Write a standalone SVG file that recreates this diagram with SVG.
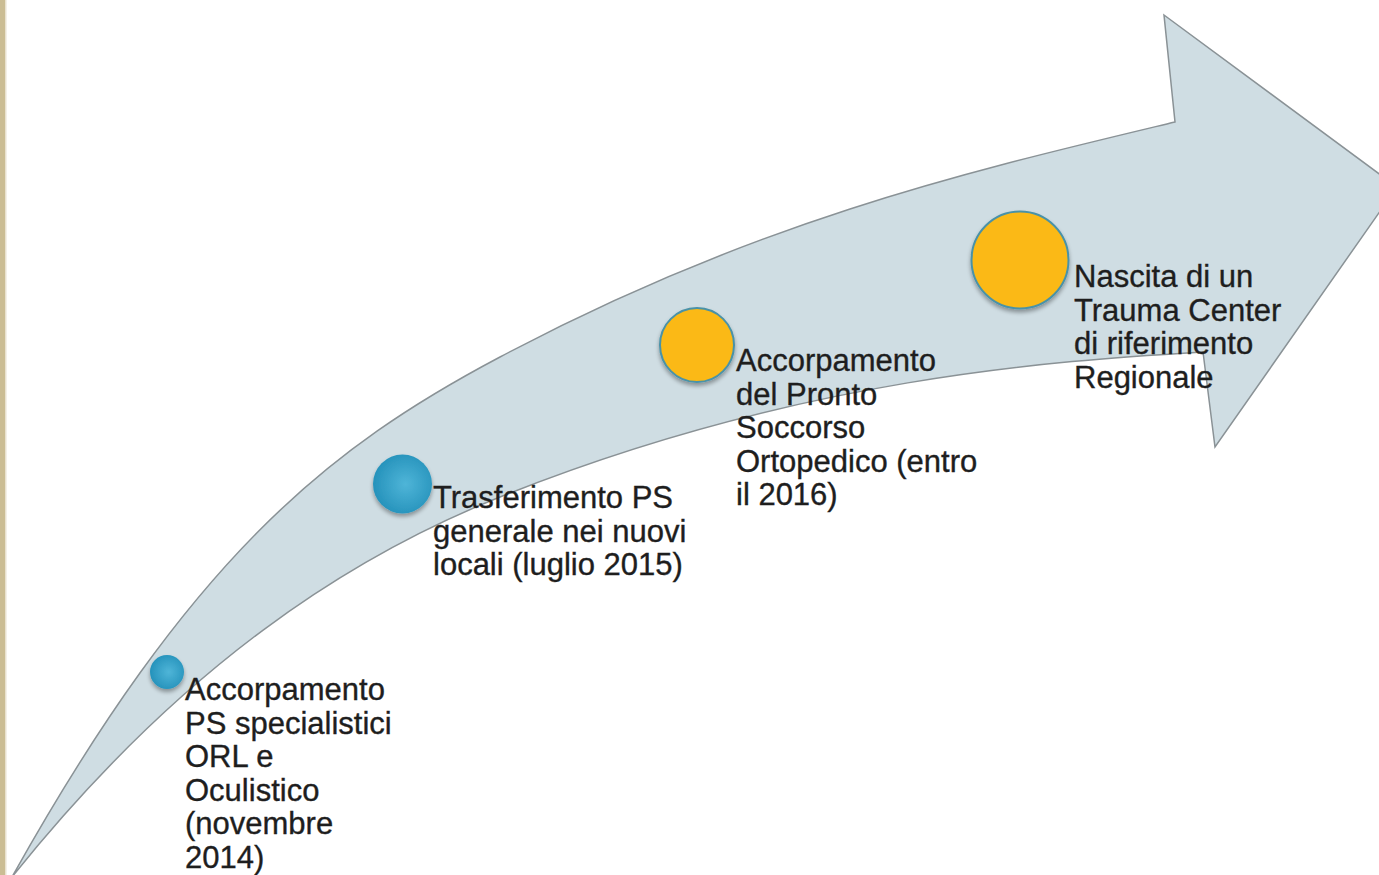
<svg xmlns="http://www.w3.org/2000/svg" width="1379" height="875" viewBox="0 0 1379 875">
  <defs>
    <radialGradient id="blueGrad" cx="0.55" cy="0.5" r="0.55">
      <stop offset="0" stop-color="#4fb5d8"/>
      <stop offset="1" stop-color="#2592bb"/>
    </radialGradient>
    <filter id="shadow" x="-30%" y="-30%" width="160%" height="170%">
      <feGaussianBlur in="SourceAlpha" stdDeviation="2"/>
      <feOffset dx="0" dy="3" result="b"/>
      <feComponentTransfer><feFuncA type="linear" slope="0.35"/></feComponentTransfer>
      <feMerge><feMergeNode/><feMergeNode in="SourceGraphic"/></feMerge>
    </filter>
    <style>
      .lbl { font-family: "Liberation Sans", Arial, sans-serif; font-size: 31px; fill: #1e1e1e; stroke: #1e1e1e; stroke-width: 0.35px; }
      .blue { fill: url(#blueGrad); filter: url(#shadow); }
      .yellow { fill: #fbb912; stroke: #4a92a8; stroke-width: 2; filter: url(#shadow); }
      .arrow { fill: #cfdde3; stroke: #8a9296; stroke-width: 1.5; stroke-linejoin: miter; }
    </style>
  </defs>
  <rect x="0" y="0" width="1379" height="875" fill="#ffffff"/>
  <rect x="0" y="0" width="5" height="875" fill="#cbbd94"/>
  <rect x="5" y="0" width="1.5" height="875" fill="#e9e2cf"/>

  <g id="timeline-arrow">
    <path class="arrow" d="M 12,877 C 192,555 330,447 500,357 C 760,219 975,170 1175,122 L 1164,15 L 1397,187 L 1215,447 L 1203,352 C 1053,361 800,377 500,497 C 350,557 182,664.5 12,877 Z"/>
  </g>

  <g id="connectors"></g>

  <g id="node-2014">
    <circle class="blue" cx="167" cy="672" r="17"/>
    <text class="lbl">
      <tspan x="185" y="700">Accorpamento</tspan>
      <tspan x="185" y="733.5">PS specialistici</tspan>
      <tspan x="185" y="767">ORL e</tspan>
      <tspan x="185" y="800.5">Oculistico</tspan>
      <tspan x="185" y="834">(novembre</tspan>
      <tspan x="185" y="867.5">2014)</tspan>
    </text>
  </g>

  <g id="node-2015">
    <circle class="blue" cx="402.5" cy="484" r="29.5"/>
    <text class="lbl">
      <tspan x="433" y="508">Trasferimento PS</tspan>
      <tspan x="433" y="541.5">generale nei nuovi</tspan>
      <tspan x="433" y="575">locali (luglio 2015)</tspan>
    </text>
  </g>

  <g id="node-2016">
    <circle class="yellow" cx="697" cy="345" r="37"/>
    <text class="lbl">
      <tspan x="736" y="371">Accorpamento</tspan>
      <tspan x="736" y="404.5">del Pronto</tspan>
      <tspan x="736" y="438">Soccorso</tspan>
      <tspan x="736" y="471.5">Ortopedico (entro</tspan>
      <tspan x="736" y="505">il 2016)</tspan>
    </text>
  </g>

  <g id="node-trauma-center">
    <circle class="yellow" cx="1020" cy="260" r="48.5"/>
    <text class="lbl">
      <tspan x="1074" y="287">Nascita di un</tspan>
      <tspan x="1074" y="320.5">Trauma Center</tspan>
      <tspan x="1074" y="354">di riferimento</tspan>
      <tspan x="1074" y="387.5">Regionale</tspan>
    </text>
  </g>
</svg>
